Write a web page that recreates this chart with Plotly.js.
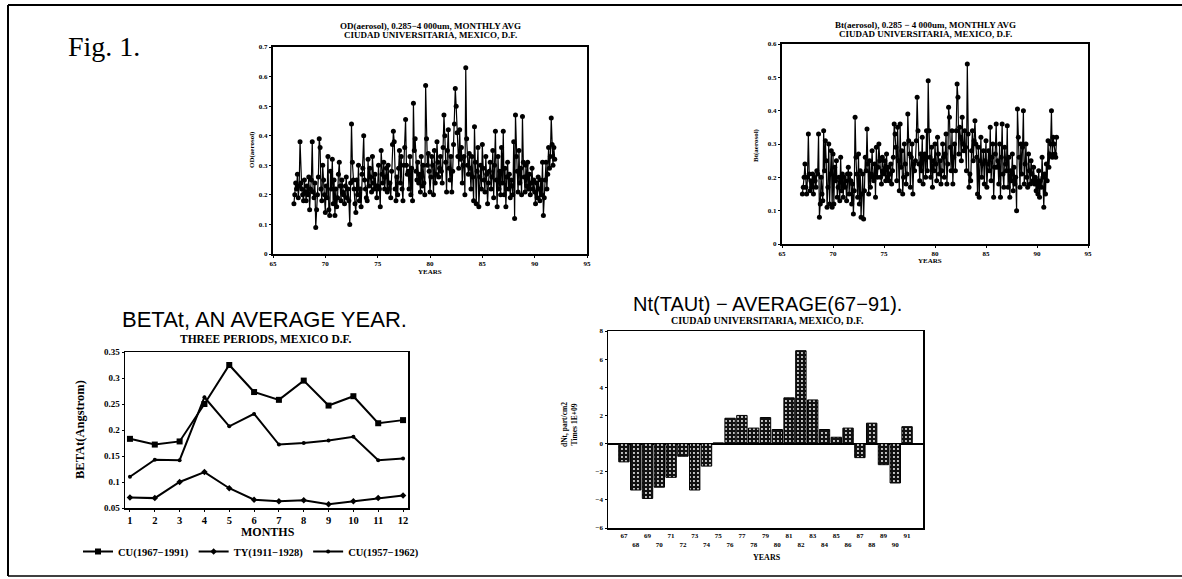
<!DOCTYPE html>
<html>
<head>
<meta charset="utf-8">
<script src="https://cdn.plot.ly/plotly-3.0.1.min.js"></script>
<style>html,body{margin:0;padding:0;background:#fff;}#chart{width:1182px;height:579px;}</style>
</head>
<body>
<div id="chart"></div>
<script>
// ---------- DATA ----------
// Monthly averages, years 1967..1991 (axis in 2-digit years)
const yearsMonthly = [67,68,69,70,71,72,73,74,75,76,77,78,79,80,81,82,83,84,85,86,87,88,89,90,91];
// OD(aerosol), 12 monthly values per year
const odByYear = [
  [0.17,0.20,0.24,0.22,0.27,0.19,0.23,0.38,0.24,0.22,0.20,0.18],
  [0.25,0.21,0.18,0.23,0.20,0.26,0.15,0.22,0.25,0.38,0.21,0.19],
  [0.24,0.09,0.15,0.20,0.26,0.39,0.36,0.22,0.18,0.30,0.25,0.20],
  [0.14,0.23,0.19,0.33,0.15,0.13,0.28,0.22,0.32,0.17,0.25,0.13],
  [0.22,0.16,0.19,0.27,0.31,0.23,0.18,0.25,0.21,0.20,0.17,0.23],
  [0.26,0.19,0.22,0.18,0.10,0.24,0.44,0.31,0.25,0.22,0.17,0.14],
  [0.25,0.20,0.30,0.18,0.22,0.16,0.27,0.29,0.40,0.25,0.22,0.19],
  [0.18,0.32,0.23,0.29,0.26,0.21,0.33,0.24,0.22,0.27,0.23,0.19],
  [0.23,0.30,0.22,0.16,0.35,0.27,0.24,0.31,0.22,0.26,0.29,0.21],
  [0.30,0.22,0.24,0.19,0.28,0.37,0.415,0.38,0.22,0.18,0.26,0.20],
  [0.29,0.35,0.24,0.33,0.22,0.18,0.30,0.36,0.455,0.30,0.27,0.28],
  [0.22,0.33,0.20,0.29,0.18,0.51,0.35,0.39,0.28,0.25,0.31,0.24],
  [0.27,0.21,0.33,0.23,0.30,0.24,0.20,0.57,0.39,0.30,0.34,0.28],
  [0.21,0.26,0.33,0.30,0.20,0.35,0.24,0.27,0.38,0.31,0.26,0.29],
  [0.33,0.28,0.24,0.36,0.47,0.40,0.31,0.21,0.35,0.42,0.29,0.25],
  [0.33,0.21,0.28,0.37,0.44,0.56,0.50,0.41,0.33,0.29,0.42,0.32],
  [0.36,0.24,0.30,0.33,0.20,0.63,0.39,0.30,0.27,0.34,0.29,0.22],
  [0.33,0.26,0.18,0.43,0.31,0.17,0.28,0.36,0.16,0.26,0.30,0.22],
  [0.37,0.29,0.25,0.21,0.33,0.27,0.17,0.24,0.28,0.31,0.22,0.26],
  [0.35,0.19,0.30,0.415,0.25,0.16,0.33,0.22,0.28,0.20,0.36,0.24],
  [0.415,0.20,0.29,0.16,0.26,0.31,0.22,0.27,0.19,0.25,0.23,0.20],
  [0.38,0.12,0.47,0.33,0.28,0.21,0.35,0.24,0.29,0.20,0.465,0.31],
  [0.26,0.21,0.30,0.23,0.31,0.22,0.27,0.20,0.24,0.29,0.22,0.25],
  [0.21,0.17,0.24,0.19,0.26,0.22,0.18,0.25,0.20,0.31,0.13,0.19],
  [0.25,0.31,0.22,0.27,0.36,0.29,0.33,0.46,0.37,0.30,0.36,0.32]
];
// Bt(aerosol), 12 monthly values per year
const btByYear = [
  [0.15,0.17,0.20,0.24,0.17,0.15,0.20,0.33,0.21,0.16,0.19,0.17],
  [0.21,0.15,0.20,0.19,0.17,0.22,0.21,0.33,0.08,0.12,0.20,0.15],
  [0.13,0.34,0.22,0.31,0.25,0.11,0.17,0.30,0.12,0.21,0.28,0.11],
  [0.27,0.12,0.23,0.19,0.25,0.14,0.17,0.20,0.13,0.26,0.16,0.21],
  [0.14,0.20,0.17,0.19,0.13,0.21,0.23,0.15,0.21,0.19,0.12,0.18],
  [0.09,0.16,0.38,0.26,0.21,0.14,0.27,0.12,0.22,0.08,0.15,0.21],
  [0.075,0.16,0.26,0.22,0.345,0.24,0.15,0.25,0.17,0.21,0.28,0.20],
  [0.19,0.24,0.14,0.29,0.20,0.23,0.30,0.25,0.20,0.18,0.26,0.22],
  [0.21,0.25,0.19,0.27,0.20,0.23,0.19,0.21,0.24,0.18,0.22,0.26],
  [0.36,0.33,0.29,0.19,0.35,0.25,0.16,0.36,0.23,0.28,0.15,0.20],
  [0.30,0.24,0.18,0.21,0.39,0.31,0.27,0.17,0.26,0.30,0.15,0.24],
  [0.22,0.25,0.31,0.44,0.34,0.24,0.19,0.27,0.22,0.32,0.18,0.26],
  [0.27,0.20,0.34,0.22,0.49,0.34,0.26,0.20,0.29,0.17,0.25,0.22],
  [0.30,0.24,0.19,0.32,0.27,0.21,0.25,0.18,0.22,0.30,0.26,0.20],
  [0.27,0.33,0.18,0.24,0.41,0.38,0.29,0.22,0.34,0.18,0.26,0.30],
  [0.22,0.34,0.48,0.44,0.27,0.35,0.32,0.25,0.38,0.30,0.28,0.34],
  [0.29,0.22,0.54,0.33,0.17,0.21,0.19,0.28,0.34,0.25,0.31,0.37],
  [0.30,0.26,0.15,0.29,0.14,0.25,0.32,0.20,0.24,0.28,0.18,0.25],
  [0.31,0.17,0.24,0.28,0.22,0.35,0.19,0.26,0.30,0.14,0.23,0.27],
  [0.36,0.23,0.25,0.18,0.30,0.14,0.26,0.36,0.21,0.17,0.29,0.24],
  [0.22,0.355,0.17,0.26,0.14,0.22,0.19,0.27,0.16,0.23,0.18,0.20],
  [0.10,0.405,0.32,0.26,0.17,0.30,0.21,0.29,0.40,0.18,0.24,0.30],
  [0.20,0.17,0.27,0.22,0.18,0.25,0.21,0.19,0.23,0.18,0.20,0.16],
  [0.19,0.15,0.22,0.14,0.19,0.17,0.26,0.20,0.11,0.21,0.15,0.24],
  [0.19,0.31,0.23,0.27,0.30,0.40,0.26,0.32,0.30,0.27,0.26,0.32]
];

// BETAt, an average year
const months = [1,2,3,4,5,6,7,8,9,10,11,12];
const betaCU6791 = [0.183,0.172,0.178,0.250,0.325,0.273,0.258,0.295,0.247,0.265,0.213,0.219];
const betaTY1128 = [0.070,0.069,0.100,0.119,0.088,0.066,0.063,0.065,0.057,0.063,0.069,0.074];
const betaCU5762 = [0.110,0.143,0.142,0.263,0.207,0.231,0.172,0.175,0.180,0.187,0.142,0.145];
const betaNames = ['CU(1967\u22121991)','TY(1911\u22121928)','CU(1957\u22121962)'];

// Nt(TAUt) - average(67-91)
const barYears = [67,68,69,70,71,72,73,74,75,76,77,78,79,80,81,82,83,84,85,86,87,88,89,90,91];
const barValues = [-1.3,-3.3,-3.9,-3.1,-2.4,-0.9,-3.3,-1.6,0.05,1.8,2.0,1.1,1.85,1.0,3.25,6.6,3.1,1.0,0.45,1.1,-1.0,1.45,-1.5,-2.8,1.2];

// ---------- BUILD ----------
const W = 1182, H = 579;
const px = x => x / W;
const py = y => 1 - y / H;

function flatten(byYear){
  const xs = [], ys = [];
  byYear.forEach((vals, i) => {
    vals.forEach((v, m) => { xs.push(yearsMonthly[i] + m / 12); ys.push(v); });
  });
  return {xs, ys};
}
const od = flatten(odByYear);
const bt = flatten(btByYear);

const SERIF = 'Liberation Serif, Times New Roman, serif';
const SANS = 'Liberation Sans, Arial, sans-serif';

const traces = [
  {x: od.xs, y: od.ys, xaxis:'x', yaxis:'y', type:'scatter', mode:'lines+markers',
   line:{color:'#000', width:1.2}, marker:{color:'#000', size:5}, showlegend:false},
  {x: bt.xs, y: bt.ys, xaxis:'x2', yaxis:'y2', type:'scatter', mode:'lines+markers',
   line:{color:'#000', width:1.2}, marker:{color:'#000', size:5}, showlegend:false},
  {x: months, y: betaCU6791, xaxis:'x3', yaxis:'y3', type:'scatter', mode:'lines+markers', name: betaNames[0],
   line:{color:'#000', width:2}, marker:{color:'#000', size:6, symbol:'square'}},
  {x: months, y: betaTY1128, xaxis:'x3', yaxis:'y3', type:'scatter', mode:'lines+markers', name: betaNames[1],
   line:{color:'#000', width:2}, marker:{color:'#000', size:5, symbol:'diamond'}},
  {x: months, y: betaCU5762, xaxis:'x3', yaxis:'y3', type:'scatter', mode:'lines+markers', name: betaNames[2],
   line:{color:'#000', width:2}, marker:{color:'#000', size:4, symbol:'circle'}},
  {x: barYears, y: barValues, xaxis:'x4', yaxis:'y4', type:'bar', width:0.88, showlegend:false,
   marker:{color:'#111', line:{color:'#000', width:1},
     pattern:{shape:'.', fgcolor:'#ffffff', bgcolor:'#111111', size:4, solidity:0.18}}}
];

const baseAxis = {showline:true, mirror:true, linecolor:'#000', showgrid:false, zeroline:false,
  ticks:'outside', ticklen:2, tickcolor:'#000'};

const tickTextBars = barYears.map((y, i) => (i % 2 === 0) ? String(y) : ' <br>' + y);

const layout = {
  width: W, height: H,
  margin: {l:0, r:0, t:0, b:0},
  paper_bgcolor:'#fff', plot_bgcolor:'#fff',
  showlegend: true,
  bargap: 0,
  legend: {orientation:'h', x: px(78), y: py(537), xanchor:'left', yanchor:'top',
    font:{family:SERIF, size:10.5, color:'#000', weight:'bold'}, itemwidth:30, bgcolor:'rgba(0,0,0,0)', tracegroupgap:0},
  xaxis: Object.assign({}, baseAxis, {domain:[px(273), px(587)], range:[65,95], dtick:5, anchor:'y', linewidth:2,
    tickfont:{family:SERIF, size:7, color:'#000', weight:'bold'}}),
  yaxis: Object.assign({}, baseAxis, {domain:[py(254), py(47)], range:[0,0.7], dtick:0.1, anchor:'x', linewidth:2,
    tickfont:{family:SERIF, size:7, color:'#000', weight:'bold'}}),
  xaxis2: Object.assign({}, baseAxis, {domain:[px(782), px(1088)], range:[65,95], dtick:5, anchor:'y2', linewidth:2,
    tickfont:{family:SERIF, size:7, color:'#000', weight:'bold'}}),
  yaxis2: Object.assign({}, baseAxis, {domain:[py(244), py(44)], range:[0,0.6], dtick:0.1, anchor:'x2', linewidth:2,
    tickfont:{family:SERIF, size:7, color:'#000', weight:'bold'}}),
  xaxis3: Object.assign({}, baseAxis, {domain:[px(125), px(408)], range:[0.8,12.2], dtick:1, anchor:'y3', linewidth:1.5,
    tickfont:{family:SERIF, size:10.5, color:'#000', weight:'bold'}}),
  yaxis3: Object.assign({}, baseAxis, {domain:[py(508), py(352)], range:[0.05,0.35], dtick:0.05, anchor:'x3', linewidth:1.5,
    tickfont:{family:SERIF, size:9, color:'#000', weight:'bold'}}),
  xaxis4: Object.assign({}, baseAxis, {domain:[px(608), px(923)], range:[65.65,92.35], anchor:'y4', linewidth:1.5,
    tickmode:'array', tickvals: barYears, ticktext: tickTextBars, ticks:'', tickangle:0,
    tickfont:{family:SERIF, size:7, color:'#000', weight:'bold'}}),
  yaxis4: Object.assign({}, baseAxis, {domain:[py(528), py(331)], range:[-6,8], dtick:2, anchor:'x4', linewidth:1.5,
    zeroline:true, zerolinecolor:'#000', zerolinewidth:2,
    tickfont:{family:SERIF, size:7, color:'#000', weight:'bold'}}),
  annotations: [],
  shapes: [
    {type:'line', xref:'paper', yref:'paper', x0:px(8), x1:1, y0:py(5), y1:py(5), line:{color:'#000', width:2}},
    {type:'line', xref:'paper', yref:'paper', x0:px(8), x1:px(8), y0:py(5), y1:py(576), line:{color:'#000', width:2}},
    {type:'line', xref:'paper', yref:'paper', x0:px(8), x1:1, y0:py(576), y1:py(576), line:{color:'#000', width:1.5}}
  ]
};

function ann(text, x, y, size, family, bold, opts){
  const font = {family, size, color:'#000'};
  if (bold) font.weight = 'bold';
  layout.annotations.push(Object.assign({text, x:px(x), y:py(y), xref:'paper', yref:'paper',
    xanchor:'center', yanchor:'middle', showarrow:false, font}, opts || {}));
}

ann('Fig. 1.', 104, 46, 28, SERIF, false);

// Top-left
ann('OD(aerosol), 0.285\u22124 000um, MONTHLY AVG', 430, 26, 9, SERIF, true);
ann('CIUDAD UNIVERSITARIA, MEXICO, D.F.', 430, 35, 9, SERIF, true);
ann('YEARS', 430, 272, 7, SERIF, true);
ann('OD(aerosol)', 252, 150, 7, SERIF, true, {textangle:-90});

// Top-right
ann('Bt(aerosol), 0.285 \u2212 4 000um, MONTHLY AVG', 925, 25, 9, SERIF, true);
ann('CIUDAD UNIVERSITARIA, MEXICO, D.F.', 925, 34, 9, SERIF, true);
ann('YEARS', 930, 261, 7, SERIF, true);
ann('Bt(aerosol)', 756, 145, 7, SERIF, true, {textangle:-90});

// Bottom-left
ann('BETAt, AN AVERAGE YEAR.', 264, 319, 22, SANS, false);
ann('THREE PERIODS, MEXICO D.F.', 266, 339, 11.5, SERIF, true);
ann('MONTHS', 268, 532, 12, SERIF, true);
ann('BETAt(Angstrom)', 80, 430, 12.5, SERIF, true, {textangle:-90});

// Bottom-right
ann('Nt(TAUt) \u2212 AVERAGE(67\u221291).', 767, 304, 20, SANS, false);
ann('CIUDAD UNIVERSITARIA, MEXICO, D.F.', 767, 320, 10, SERIF, true);
ann('YEARS', 767, 557, 8, SERIF, true);
ann('dNt, part/cm2<br>Times 1E+09', 569, 425, 7.5, SERIF, true, {textangle:-90});

Plotly.newPlot('chart', traces, layout, {staticPlot:true, displayModeBar:false});
</script>
</body>
</html>
